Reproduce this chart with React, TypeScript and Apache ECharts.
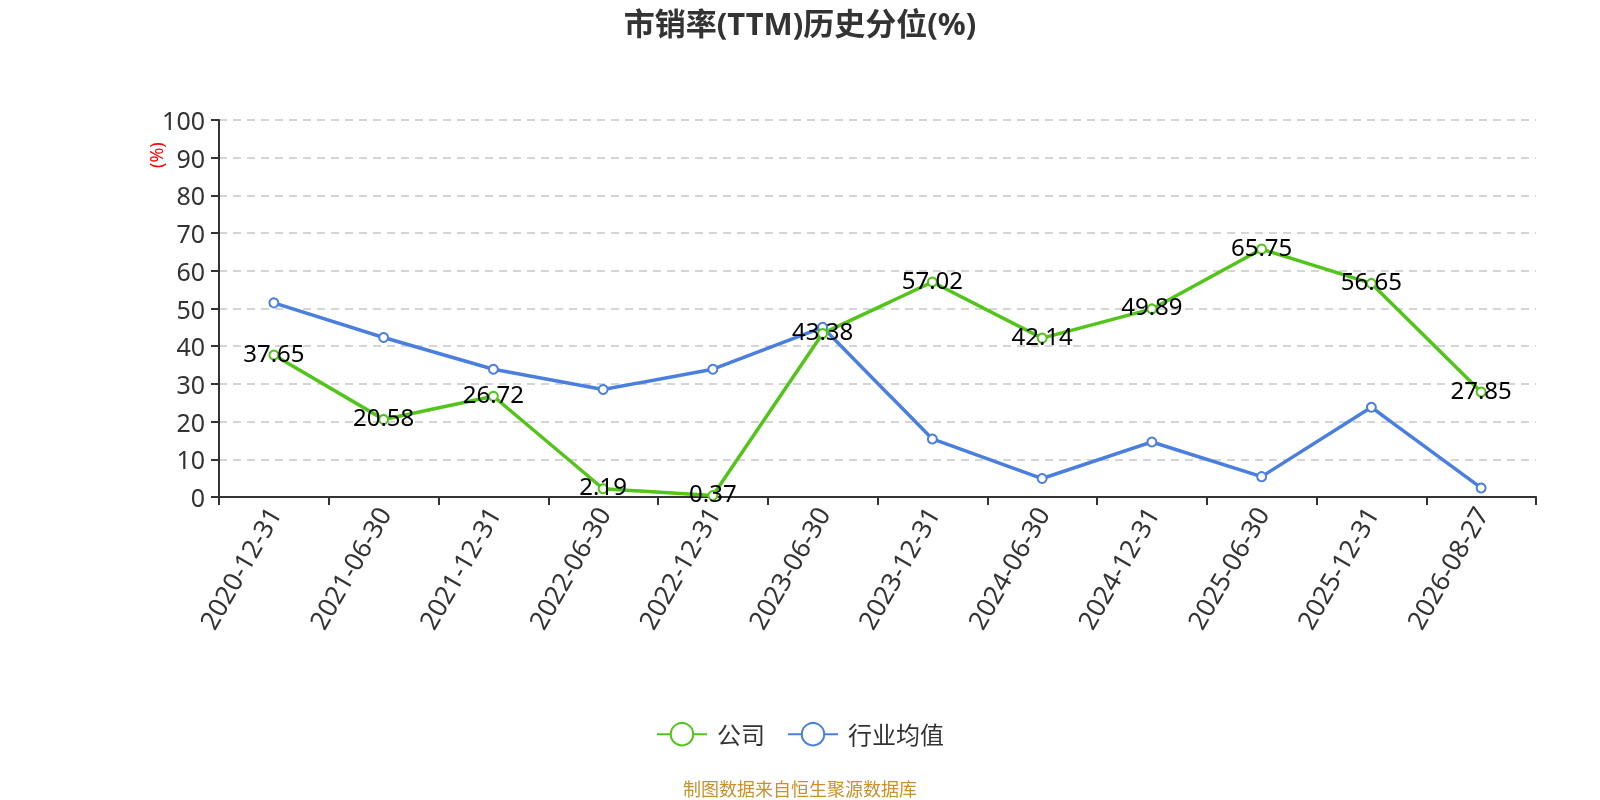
import React, { useEffect, useRef } from "react";
import * as echarts from "echarts";

const categories = [
  "2020-12-31", "2021-06-30", "2021-12-31", "2022-06-30", "2022-12-31", "2023-06-30",
  "2023-12-31", "2024-06-30", "2024-12-31", "2025-06-30", "2025-12-31", "2026-08-27",
];
const companyValues = [37.65, 20.58, 26.72, 2.19, 0.37, 43.38, 57.02, 42.14, 49.89, 65.75, 56.65, 27.85];
const industryValues = [51.5, 42.3, 33.9, 28.5, 33.9, 45.0, 15.4, 4.9, 14.6, 5.4, 23.8, 2.4];
const yTicks = { min: 0, max: 100, interval: 10 };

const FONT = "'Noto Sans', 'Noto Sans CJK SC', sans-serif";

export default function App() {
  const ref = useRef<HTMLDivElement>(null);
  useEffect(() => {
    if (!ref.current) return;
    const chart = echarts.init(ref.current, undefined, { renderer: "svg" });
    chart.setOption({
      animation: false,
      textStyle: { fontFamily: FONT },
      title: {
        text: "市销率(TTM)历史分位(%)",
        left: "center",
        top: 2,
        textStyle: { fontSize: 31, fontWeight: "bold", color: "#333", fontFamily: FONT },
      },
      grid: { left: 219, right: 64, top: 120, bottom: 303 },
      legend: {
        top: 717,
        left: "center",
        itemWidth: 50,
        itemHeight: 28,
        itemGap: 22,
        textStyle: { fontSize: 24, color: "#333", padding: [0, 0, 0, 5] },
        data: ["公司", "行业均值"],
      },
      xAxis: {
        type: "category",
        data: categories,
        boundaryGap: true,
        axisLine: { lineStyle: { color: "#333", width: 2 } },
        axisTick: { show: true, alignWithLabel: false, length: 8, lineStyle: { color: "#333", width: 2 } },
        axisLabel: { rotate: 60, fontSize: 26, color: "#333", margin: 12, interval: 0 },
      },
      yAxis: {
        type: "value",
        min: yTicks.min,
        max: yTicks.max,
        interval: yTicks.interval,
        axisLine: { show: true, lineStyle: { color: "#333", width: 2 } },
        axisTick: { show: true, length: 8, lineStyle: { color: "#333", width: 2 } },
        axisLabel: { fontSize: 25, color: "#333", margin: 14 },
        splitLine: { show: true, lineStyle: { type: [8, 6], color: "#c8c8c8", width: 1.5 } },
      },
      graphic: [
        {
          type: "text",
          x: 147,
          y: 168,
          rotation: Math.PI / 2,
          style: { text: "(%)", fontSize: 18, fill: "#ff0000", fontFamily: FONT },
        },
        {
          type: "text",
          left: "center",
          top: 780,
          style: { text: "制图数据来自恒生聚源数据库", fontSize: 18, fill: "#c8912a", fontFamily: FONT },
        },
      ],
      series: [
        {
          name: "公司",
          type: "line",
          data: companyValues,
          symbol: "emptyCircle",
          symbolSize: 9,
          itemStyle: { color: "#52c41a" },
          lineStyle: { width: 3.5, color: "#52c41a" },
          label: { show: true, position: "inside", offset: [0, -3], fontSize: 24, color: "#000" },
          z: 3,
        },
        {
          name: "行业均值",
          type: "line",
          data: industryValues,
          symbol: "emptyCircle",
          symbolSize: 9,
          itemStyle: { color: "#4a7fe0" },
          lineStyle: { width: 3.5, color: "#4a7fe0" },
          z: 2,
        },
      ],
    });
    return () => chart.dispose();
  }, []);
  return <div ref={ref} style={{ position: "fixed", left: 0, top: 0, width: 1600, height: 800 }} />;
}
